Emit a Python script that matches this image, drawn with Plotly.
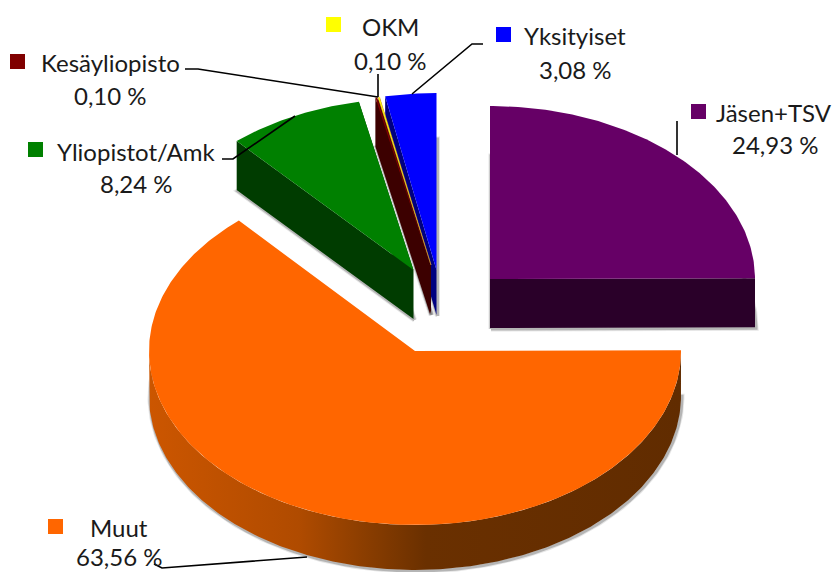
import math
import plotly.graph_objects as go

names = ["Jäsen+TSV", "Muut", "Yliopistot/Amk", "Kesäyliopisto", "OKM", "Yksityiset"]
shares = [24.93, 63.56, 8.24, 0.10, 0.10, 3.08]
share_labels = ["24,93 %", "63,56 %", "8,24 %", "0,10 %", "0,10 %", "3,08 %"]
top_colors = ["#660066", "#FF6600", "#008000", "#800000", "#FFFF00", "#0000FF"]
side_colors = ["#2A0029", "#662E00", "#003C00", "#3C0000", "#3C0000", "#000080"]

# exploded-pie projection, in the pixel space of the hidden axes
centers_x = [490, 415, 413.5, 430, 431, 436.5]
centers_y = [279, 351, 270, 265, 265, 270]
radius_x = [265, 266, 267, 267, 267, 267]
radius_y = [173, 174, 172, 171, 171, 177]
depths = [49, 45, 49, 49, 49, 45]

key_x = [698.5, 55.5, 35.5, 17.5, 333.5, 503.5]
key_y = [111.5, 526.5, 149.5, 61.5, 24.5, 34.5]
name_x = [774, 119, 136, 110, 390, 575]
name_y = [112, 527, 151, 62, 26, 35]
value_x = [775, 119, 136, 110, 390, 575]
value_y = [144, 556.5, 183, 95, 60, 69]

leaders = [
    ([677, 677], [121, 155]),
    ([154, 162, 307], [564, 568, 557]),
    ([222, 233, 295], [159, 159, 116]),
    ([185, 198, 378], [69, 69, 97]),
    ([378, 378], [74, 97]),
    ([483, 472, 412], [44, 44, 94]),
]

FONT = "Lato"
FONT_SIZE = 24
TEXT = "#1A1A1A"

total = sum(shares)
angles = []
a = 0.0
for s in shares:
    angles.append((a, a + 360.0 * s / total))
    a += 360.0 * s / total


def rim(i, t, dz=0.0):
    r = math.radians(t)
    return (centers_x[i] + radius_x[i] * math.sin(r),
            centers_y[i] - radius_y[i] * math.cos(r) + dz)


def arc(i, t0, t1, dz=0.0):
    n = max(2, int(abs(t1 - t0) * 1.5))
    return [rim(i, t0 + (t1 - t0) * k / n, dz) for k in range(n + 1)]


def sector(i, dz=0.0):
    t0, t1 = angles[i]
    return [(centers_x[i], centers_y[i] + dz)] + arc(i, t0, t1, dz) + [(centers_x[i], centers_y[i] + dz)]


def sides(i):
    """radial faces and the outer wall, separated by gaps"""
    t0, t1 = angles[i]
    d = depths[i]
    xs, ys = [], []

    def add(poly):
        xs.extend([p[0] for p in poly] + [None])
        ys.extend([p[1] for p in poly] + [None])

    c = (centers_x[i], centers_y[i])
    for t in (t0, t1):
        p = rim(i, t)
        add([c, p, (p[0], p[1] + d), (c[0], c[1] + d), c])
    lo, hi = max(t0, 90), min(t1, 270)
    if hi > lo:
        add(arc(i, lo, hi) + arc(i, hi, lo, d) + [rim(i, lo)])
    return xs, ys


def wall(i):
    t0, t1 = angles[i]
    lo, hi = max(t0, 90), min(t1, 270)
    poly = arc(i, lo, hi) + arc(i, hi, lo, depths[i]) + [rim(i, lo)]
    return [p[0] for p in poly], [p[1] for p in poly]


fig = go.Figure()


def add_poly(x, y, color, **kw):
    fig.add_trace(go.Scatter(x=x, y=y, mode="lines", fill="toself", fillcolor=color,
                             line=dict(width=0, color=color), hoverinfo="skip", **kw))


# soft shadows
for i in range(len(names)):
    poly = sector(i, depths[i])
    for w, col in ((5, "rgba(90,90,90,0.15)"), (3, "rgba(90,90,90,0.35)")):
        fig.add_trace(go.Scatter(x=[p[0] + 1 for p in poly], y=[p[1] + 1 for p in poly], mode="lines",
                                 line=dict(width=w, color=col), hoverinfo="skip"))

MUUT = names.index("Muut")
wx, wy = wall(MUUT)
fig.add_trace(go.Scatter(
    x=wx, y=wy, mode="lines", fill="toself", line=dict(width=0), hoverinfo="skip",
    fillgradient=dict(type="horizontal", start=149, stop=682,
                      colorscale=[[0, "#CC5600"], [0.28, "#B04B00"], [0.40, "#8C3E00"],
                                  [0.52, "#6A3000"], [1, "#612C00"]])))

p = sector(MUUT)
add_poly([q[0] for q in p], [q[1] for q in p], top_colors[MUUT])

for i in [2, 5, 4, 3, 0]:
    sx, sy = sides(i)
    add_poly(sx, sy, side_colors[i])
    if i == 4:
        continue
    p = sector(i)
    add_poly([q[0] for q in p], [q[1] for q in p], top_colors[i])

# OKM sliver on top of the Kesäyliopisto wall
p = sector(4)
fig.add_trace(go.Scatter(x=[q[0] for q in p], y=[q[1] for q in p], mode="lines", fill="toself",
                         fillcolor="#FFFF00", line=dict(width=0.5, color="#E8B040"), hoverinfo="skip"))

for lx, ly in leaders:
    fig.add_trace(go.Scatter(x=lx, y=ly, mode="lines", line=dict(color="black", width=1.6),
                             hoverinfo="skip"))

fig.add_trace(go.Scatter(x=key_x, y=key_y, mode="markers",
                         marker=dict(symbol="square", size=15, color=top_colors, line=dict(width=0)),
                         hoverinfo="skip"))

annotations = []
for i, n in enumerate(names):
    annotations.append(dict(x=name_x[i], y=name_y[i], text=n, showarrow=False,
                            xanchor="center", yanchor="middle"))
    annotations.append(dict(x=value_x[i], y=value_y[i], text=share_labels[i], showarrow=False,
                            xanchor="center", yanchor="middle"))

fig.update_layout(
    width=833, height=572, margin=dict(l=0, r=0, t=0, b=0),
    paper_bgcolor="white", plot_bgcolor="white", showlegend=False,
    font=dict(family=FONT, size=FONT_SIZE, color=TEXT),
    xaxis=dict(range=[0, 833], visible=False, fixedrange=True),
    yaxis=dict(range=[572, 0], visible=False, fixedrange=True),
    annotations=annotations,
)

fig.write_html("out.html", config={"displayModeBar": False},
               post_script="document.body.style.margin='0';document.body.style.overflow='hidden';")
